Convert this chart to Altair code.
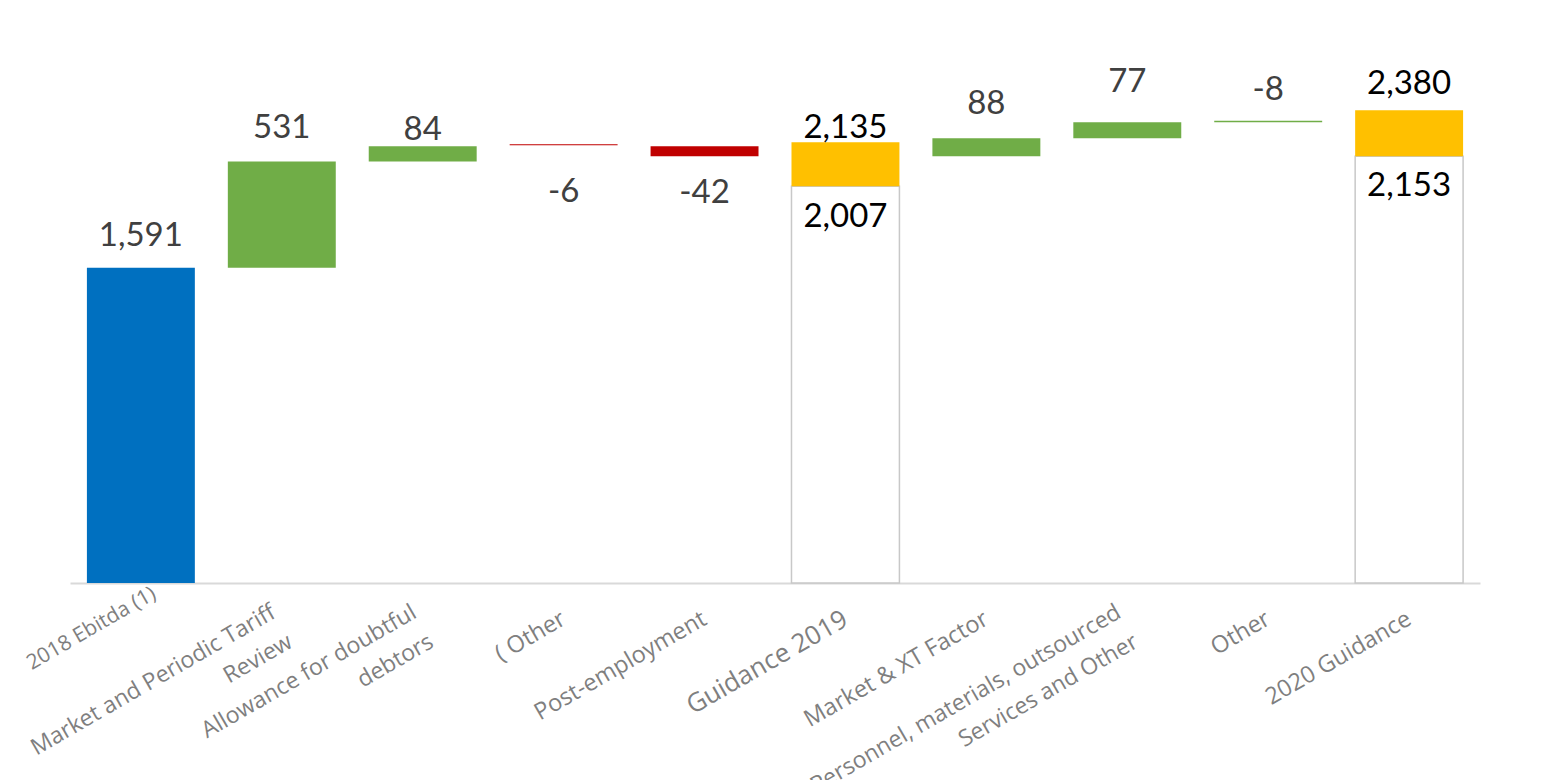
import altair as alt
import pandas as pd

# ---- data ----
labels = [
    "2018 Ebitda (1)",
    "Market and Periodic Tariff\nReview",
    "Allowance for doubtful\ndebtors",
    "(  Other",
    "Post-employment",
    "Guidance 2019",
    "Market & XT Factor",
    "Personnel, materials, outsourced\nServices and Other",
    "Other",
    "2020 Guidance",
]
kinds = ["actual", "2019 up", "2019 up", "2019 down", "2019 down",
         "guidance", "2020 driver", "2020 driver", "2020 driver", "guidance"]
bar_low = [0, 1591, 2126, 2208, 2153, 2002, 2153, 2244, 2324, 2153]
bar_high = [1591, 2126, 2204, 2214, 2204, 2224, 2244, 2325, 2332, 2385]

base_idx = [5, 9]
base_low = [0, 0]
base_high = [2002, 2153]

value_idx = [0, 1, 2, 3, 4, 5, 5, 6, 7, 8, 9, 9]
value_text = ["1,591", "531", "84", "-6", "-42", "2,135", "2,007",
              "88", "77", "-8", "2,380", "2,153"]
value_at = [1750, 2295, 2284, 1972, 1967, 2295, 1846, 2416, 2527, 2486, 2516, 2002]

kind_domain = ["actual", "2019 up", "2019 down", "guidance", "2020 driver"]
kind_colors = ["#0070C0", "#70AD47", "#C00000", "#FFC000", "#70AD47"]

bars = pd.DataFrame({"idx": list(range(len(labels))), "kind": kinds,
                     "low": bar_low, "high": bar_high})
bases = pd.DataFrame({"idx": base_idx, "low": base_low, "high": base_high})
values = pd.DataFrame({"idx": value_idx, "text": value_text, "at": value_at})
cats = pd.DataFrame({"idx": list(range(len(labels))), "label": labels})
multi = cats["label"].str.contains("\n")
cats_single = cats[~multi]
cats_multi = cats[multi]

FONT = "Lato"
LABEL_FONT = "Open Sans"
W, H = 1410, 555

x = alt.X("idx:O",
          scale=alt.Scale(paddingInner=0.234, paddingOuter=0.12),
          axis=alt.Axis(labels=False, ticks=False, title=None, grid=False,
                        domainColor="#d9d9d9", domainWidth=2))
yscale = alt.Scale(domain=[0, 2800], nice=False)

base_layer = alt.Chart(bases).mark_bar(fill="white", stroke="#c8c8c8", strokeWidth=1.5).encode(
    x=x,
    y=alt.Y("low:Q", scale=yscale, axis=None),
    y2="high:Q",
)

bar_layer = alt.Chart(bars).mark_bar().encode(
    x=x,
    y=alt.Y("low:Q", scale=yscale, axis=None),
    y2="high:Q",
    color=alt.Color("kind:N", scale=alt.Scale(domain=kind_domain, range=kind_colors), legend=None),
)

value_layer = alt.Chart(values).mark_text(font=FONT, fontSize=33, baseline="middle", align="center").encode(
    x=x,
    y=alt.Y("at:Q", scale=yscale, axis=None),
    text="text:N",
    color=alt.condition("datum.idx == 5 || datum.idx == 9", alt.value("#000000"), alt.value("#404040")),
)

label_style = dict(font=LABEL_FONT, angle=330, align="right", baseline="middle",
                   lineBreak="\n", color="#7f7f7f", lineHeight=34)

single_layer = alt.Chart(cats_single).mark_text(
    dx=alt.ExprRef("datum.idx == 0 ? 26 : 2"),
    dy=alt.ExprRef("datum.idx == 0 ? -18 : -3"),
    fontSize=alt.ExprRef("datum.idx == 5 ? 26 : (datum.idx == 0 ? 21 : 23.5)"),
    **label_style,
).encode(x=x, y=alt.value(H + 38), text="label:N")

multi_layer = alt.Chart(cats_multi).mark_text(
    dx=-2, dy=-13, fontSize=23, **label_style,
).encode(x=x, y=alt.value(H + 38), text="label:N")

chart = alt.layer(base_layer, bar_layer, value_layer, single_layer, multi_layer).properties(
    width=W, height=H,
    autosize=alt.AutoSizeParams(type="none"),
    padding={"left": 62, "top": 20, "right": 40, "bottom": 230},
    background="white",
).configure_view(strokeWidth=0)

chart.save("out.html", embed_options={"renderer": "svg", "actions": False})
